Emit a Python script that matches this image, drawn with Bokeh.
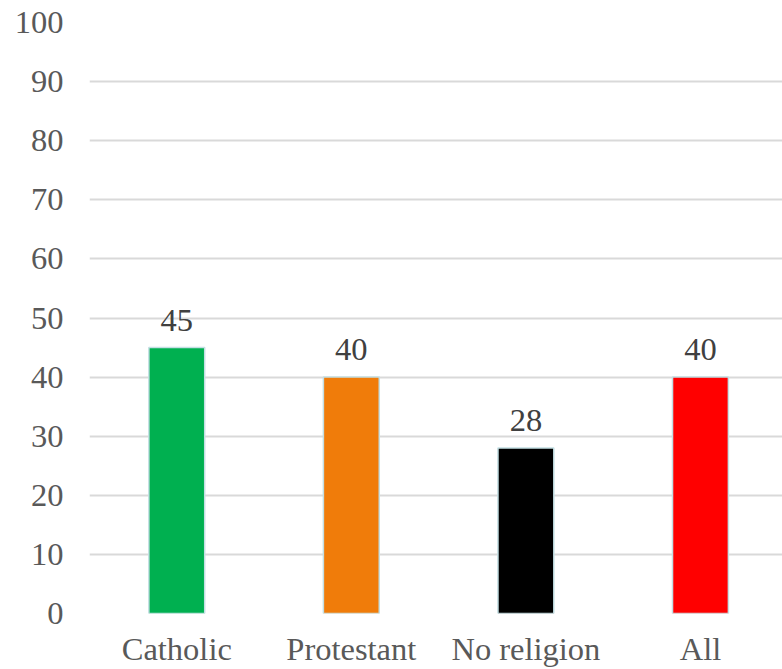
from bokeh.plotting import figure
from bokeh.models import Range1d, FixedTicker, ColumnDataSource, LabelSet
from bokeh.embed import file_html
from bokeh.resources import INLINE

# Share of respondents by religious group
categories = ["Catholic", "Protestant", "No religion", "All"]
values = [45, 40, 28, 40]
colors = ["#00b050", "#f07c0a", "#000000", "#ff0000"]
y_ticks = [0, 10, 20, 30, 40, 50, 60, 70, 80, 90, 100]

positions = [i + 0.5 for i in range(len(categories))]

source = ColumnDataSource(data=dict(
    x=positions,
    top=values,
    color=colors,
    label=[str(v) for v in values],
))

FONT = "Liberation Serif"
FONT_SIZE = "32.5px"
TEXT_COLOR = "#595959"

p = figure(
    width=782, height=669,
    x_range=Range1d(0, 3.97), y_range=Range1d(0, 100),
    output_backend="svg", toolbar_location=None,
    min_border_left=89, min_border_right=0,
    min_border_top=22, min_border_bottom=56,
)
p.outline_line_color = None
p.background_fill_color = "white"

p.vbar(x="x", top="top", width=0.32, bottom=0, source=source,
       fill_color="color", line_color="#c4dfe4", line_width=1.5)

labels = LabelSet(x="x", y="top", text="label", source=source,
                  text_align="center", text_baseline="alphabetic",
                  y_offset=17, text_font=FONT, text_font_size=FONT_SIZE,
                  text_color="#404040")
p.add_layout(labels)

# y axis
p.yaxis.ticker = FixedTicker(ticks=y_ticks)
p.yaxis.axis_line_color = None
p.yaxis.major_tick_line_color = None
p.yaxis.minor_tick_line_color = None
p.yaxis.major_label_standoff = 20
p.yaxis.major_label_text_font = FONT
p.yaxis.major_label_text_font_size = FONT_SIZE
p.yaxis.major_label_text_color = TEXT_COLOR

# x axis with category names
p.xaxis.ticker = FixedTicker(ticks=positions)
p.xaxis.major_label_overrides = {pos: name for pos, name in zip(positions, categories)}
p.xaxis.axis_line_color = None
p.xaxis.major_tick_line_color = None
p.xaxis.minor_tick_line_color = None
p.xaxis.major_label_standoff = 11
p.xaxis.major_label_text_font = FONT
p.xaxis.major_label_text_font_size = FONT_SIZE
p.xaxis.major_label_text_color = TEXT_COLOR

p.xgrid.grid_line_color = None
p.ygrid.grid_line_color = "#d9d9d9"
p.ygrid.grid_line_width = 2

open("out.html", "w").write(file_html(p, INLINE))
